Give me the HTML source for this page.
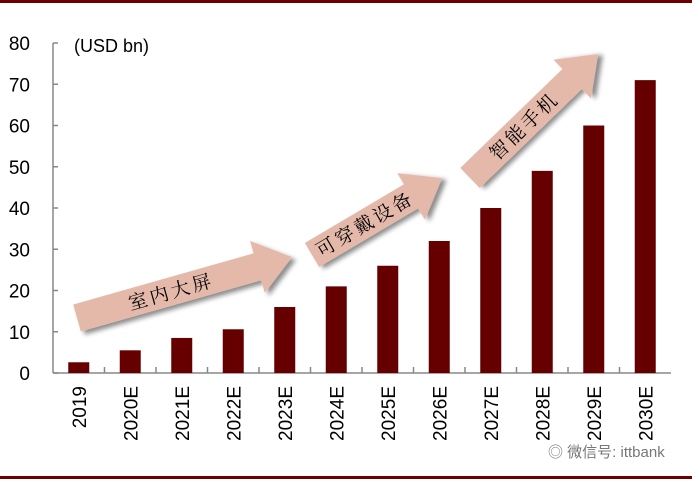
<!DOCTYPE html>
<html><head><meta charset="utf-8"><style>
body{margin:0;background:#fff;width:692px;height:481px;overflow:hidden;font-family:"Liberation Sans","Noto Sans CJK SC",sans-serif}
</style></head><body>
<svg width="692" height="481">
<defs><filter id="sh" x="-20%" y="-50%" width="140%" height="200%"><feDropShadow dx="3" dy="4" stdDeviation="2.5" flood-color="#000" flood-opacity="0.45"/></filter></defs>
<rect x="0" y="0" width="692" height="3" fill="#6b0000"/>
<rect x="0" y="476" width="692" height="3" fill="#6b0000"/>
<g id="ax"></g><g id="bars"></g><g id="arrows"></g>
<text x="74" y="52" font-size="18" fill="#000">(USD bn)</text>
<text x="548" y="457" font-size="15" fill="#777">◎ 微信号: ittbank</text>
</svg>
<script>
const categories=["2019","2020E","2021E","2022E","2023E","2024E","2025E","2026E","2027E","2028E","2029E","2030E"];
const values=[2.6,5.5,8.5,10.6,16,21,26,32,40,49,60,71];
const yTicks=[0,10,20,30,40,50,60,70,80];
const NS="http://www.w3.org/2000/svg";
const x0=53,y0=373,yTop=43,bw=51.5;
const y=v=>y0-(v/80)*(y0-yTop);
const xc=i=>x0+bw*(i+0.5);
function mk(t,a,p){const e=document.createElementNS(NS,t);for(const k in a)e.setAttribute(k,a[k]);p.appendChild(e);return e;}
const ax=document.getElementById('ax');
const yl=mk('line',{x1:x0,y1:yTop,x2:x0,y2:y0,stroke:'#888','stroke-width':1.5},ax);


const xl=mk('line',{x1:x0,y1:y0,x2:x0+bw*12,y2:y0,stroke:'#888','stroke-width':1.5},ax);


yTicks.forEach(v=>{
 mk('line',{x1:x0,y1:y(v),x2:x0+5,y2:y(v),stroke:'#888','stroke-width':1.5},ax);
 const t=mk('text',{x:30,y:y(v)+7,'font-size':19,'text-anchor':'end'},ax);t.textContent=v;
 
 
});
const bg=document.getElementById('bars');
categories.forEach((c,i)=>{
 if(i>0)mk('line',{x1:x0+bw*i,y1:y0,x2:x0+bw*i,y2:y0-6,stroke:'#888','stroke-width':1.5},ax);
 const r=mk('rect',{x:xc(i)-10.5,y:y(values[i]),width:21,height:y0-y(values[i]),fill:'#660000'},bg);
 
 
 const t=mk('text',{transform:`translate(${xc(i)+7},386) rotate(-90)`,'font-size':19,'text-anchor':'end'},ax);t.textContent=c;
 
 
});
const arrows=[[77,318,292,257,"室内大屏","arrow-indoor-screen"],[312,255,442,178,"可穿戴设备","arrow-wearables"],[470,178,598,54,"智能手机","arrow-smartphone"]];
const ag=document.getElementById('arrows');
arrows.forEach(a=>{
 const [sx,sy,ex,ey,label,name]=a;
 const L=Math.hypot(ex-sx,ey-sy),ang=Math.atan2(ey-sy,ex-sx)*180/Math.PI;
 const g=mk('g',{transform:`translate(${sx},${sy}) rotate(${ang})`},ag);
 
 
 const hl=36,sw=14,hw=27;
 mk('polygon',{points:`0,${-sw} ${L-hl},${-sw} ${L-hl},${-hw} ${L},0 ${L-hl},${hw} ${L-hl},${sw} 0,${sw}`,fill:'#e5b9aa',filter:'url(#sh)'},g);
 const t=mk('text',{x:(L-hl)/2+4,y:7,'font-size':19,'text-anchor':'middle','font-family':'"Noto Serif CJK SC",serif','letter-spacing':3},g);t.textContent=label;
});
</script>
</body></html>
